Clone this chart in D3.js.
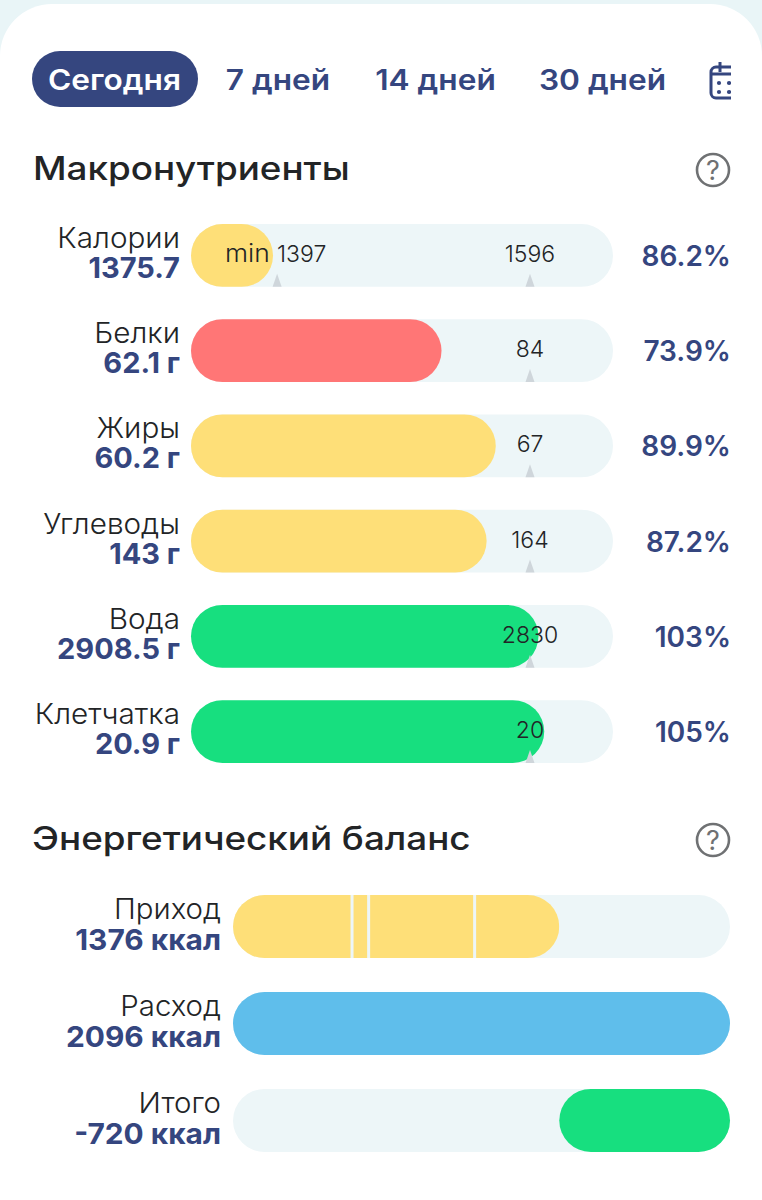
<!DOCTYPE html>
<html>
<head>
<meta charset="utf-8">
<script src="https://cdn.jsdelivr.net/npm/d3@7"></script>
<style>
  html, body { margin: 0; padding: 0; background: #fff; }
  text { font-family: Inter, "Noto Sans", sans-serif; }
</style>
</head>
<body>
<svg id="chart" width="762" height="1200"></svg>
<script>
// tabs
const tabLabels = ["Сегодня", "7 дней", "14 дней", "30 дней"];

// macronutrients
const macroNames = ["Калории", "Белки", "Жиры", "Углеводы", "Вода", "Клетчатка"];
const macroValues = ["1375.7", "62.1 г", "60.2 г", "143 г", "2908.5 г", "20.9 г"];
const macroPercents = ["86.2%", "73.9%", "89.9%", "87.2%", "103%", "105%"];
const macroFill = [24.2, 73.9, 89.9, 87.2, 102.5, 104.2]; // bar length, % of the target mark
const macroColors = ["#fedf78", "#ff7676", "#fedf78", "#fedf78", "#17df7f", "#17df7f"];
const macroTargets = ["1596", "84", "67", "164", "2830", "20"];
const calorieMinLabel = "1397";
const calorieMinPos = 25.4;

// energy balance
const energyNames = ["Приход", "Расход", "Итого"];
const energyLabels = ["1376 ккал", "2096 ккал", "-720 ккал"];
const mealKcal = [502, 70, 447, 357];
const burnedKcal = 2096;
const balanceKcal = 720;

const navy = "#35467f", ink = "#222426", track = "#edf6f8", mark = "#cfd6db", yellow = "#fedf78";

const svg = d3.select("#chart");

// the reference font runs wider than Inter, so stretch text by a factor
function widen(sel, k) {
  sel.each(function () {
    d3.select(this)
      .attr("textLength", this.getComputedTextLength() * k)
      .attr("lengthAdjust", "spacingAndGlyphs");
  });
}

// page background + card
svg.append("rect").attr("width", 762).attr("height", 60).attr("fill", "#e9f5f7");
svg.append("rect").attr("y", 4).attr("width", 762).attr("height", 1260).attr("rx", 52).attr("fill", "#fff");

// tabs
const tabX = [114.5, 278, 435.5, 602.5];
svg.append("rect").attr("x", 32).attr("y", 51).attr("width", 166).attr("height", 56)
  .attr("rx", 28).attr("fill", navy);
svg.selectAll(".tab").data(tabLabels).enter().append("text")
  .attr("class", "tab")
  .attr("x", (d, i) => tabX[i]).attr("y", 90)
  .attr("text-anchor", "middle")
  .attr("fill", (d, i) => i === 0 ? "#fff" : navy)
  .style("font-size", "28px").style("font-weight", 600)
  .text(d => d)
  .call(widen, 1.13);

// calendar icon, cut at the right edge like the tab strip
svg.append("clipPath").attr("id", "calClip").append("rect")
  .attr("x", 700).attr("y", 55).attr("width", 31).attr("height", 50);
const cal = svg.append("g").attr("clip-path", "url(#calClip)");
cal.append("rect").attr("x", 711).attr("y", 67).attr("width", 30).attr("height", 31).attr("rx", 5)
  .attr("fill", "none").attr("stroke", navy).attr("stroke-width", 3);
cal.append("path").attr("d", "M711 74H741M720 62V72").attr("stroke", navy).attr("stroke-width", 3);
cal.selectAll(".dot").data([[719, 83], [729, 83], [719, 92], [729, 92]]).enter().append("circle")
  .attr("cx", d => d[0]).attr("cy", d => d[1]).attr("r", 2.1).attr("fill", navy);

function sectionTitle(title, x, y, helpY) {
  svg.append("text").attr("x", x).attr("y", y).attr("fill", ink)
    .style("font-size", "32px").style("font-weight", 500).text(title)
    .call(widen, 1.15);
  svg.append("circle").attr("cx", 713).attr("cy", helpY).attr("r", 16)
    .attr("fill", "none").attr("stroke", "#6f7173").attr("stroke-width", 2.6);
  svg.append("text").attr("x", 713).attr("y", helpY + 9.5).attr("text-anchor", "middle")
    .attr("fill", "#6f7173").style("font-size", "27px").text("?");
}

sectionTitle("Макронутриенты", 33, 180, 170);
sectionTitle("Энергетический баланс", 32, 850, 840);

// macro rows
const xMacro = d3.scaleLinear().domain([0, 100]).range([191, 530]);
const yMacro = d3.scaleBand().domain(macroNames).range([224, 763]).paddingInner(0.34);
const h = yMacro.bandwidth();

const rows = svg.selectAll(".macro").data(macroNames).enter().append("g")
  .attr("class", "macro")
  .attr("transform", d => `translate(0,${yMacro(d)})`);

rows.append("rect").attr("x", 191).attr("width", 422).attr("height", h).attr("rx", h / 2).attr("fill", track);
rows.append("rect").attr("x", xMacro(0))
  .attr("width", (d, i) => xMacro(macroFill[i]) - xMacro(0))
  .attr("height", h).attr("rx", h / 2)
  .attr("fill", (d, i) => macroColors[i]);

const triangle = (x, y) => `M${x} ${y - 13}L${x + 4.5} ${y}H${x - 4.5}Z`;
rows.append("path").attr("d", triangle(xMacro(100), h)).attr("fill", mark);
rows.append("text").attr("x", xMacro(100)).attr("y", 38).attr("text-anchor", "middle")
  .attr("fill", ink).style("font-size", "23px").style("font-weight", 300).text((d, i) => macroTargets[i]);

rows.append("text").attr("x", 180).attr("y", 24).attr("text-anchor", "end")
  .attr("fill", ink).style("font-size", "28px").style("font-weight", 300).text(d => d)
  .call(widen, 1.06);
rows.append("text").attr("x", 180).attr("y", 54).attr("text-anchor", "end")
  .attr("fill", navy).style("font-size", "29px").style("font-weight", 700).text((d, i) => macroValues[i]);
rows.append("text").attr("x", 731).attr("y", 42).attr("text-anchor", "end")
  .attr("fill", navy).style("font-size", "28px").style("font-weight", 600).text((d, i) => macroPercents[i]);

// calories row has a min mark too
const calRow = rows.filter((d, i) => i === 0);
calRow.append("path").attr("d", triangle(xMacro(calorieMinPos), h)).attr("fill", mark);
calRow.append("text").attr("x", 225).attr("y", 38).attr("fill", ink)
  .style("font-size", "24px").style("font-weight", 300).text("min").call(widen, 1.1);
calRow.append("text").attr("x", 277).attr("y", 38).attr("fill", ink)
  .style("font-size", "23px").style("font-weight", 300).text(calorieMinLabel);

// energy rows
const xEnergy = d3.scaleLinear().domain([0, burnedKcal]).range([233, 730]);
const yEnergy = d3.scaleBand().domain(energyNames).range([895, 1152]).paddingInner(0.35);
const eh = yEnergy.bandwidth();

const eRows = svg.selectAll(".energy").data(energyNames).enter().append("g")
  .attr("class", "energy")
  .attr("transform", d => `translate(0,${yEnergy(d)})`);

eRows.append("rect").attr("x", 233).attr("width", 497).attr("height", eh).attr("rx", eh / 2).attr("fill", track);
eRows.append("text").attr("x", 221).attr("y", 24).attr("text-anchor", "end")
  .attr("fill", ink).style("font-size", "28px").style("font-weight", 300).text(d => d)
  .call(widen, 1.05);
eRows.append("text").attr("x", 221).attr("y", 55).attr("text-anchor", "end")
  .attr("fill", navy).style("font-size", "29px").style("font-weight", 700).text((d, i) => energyLabels[i])
  .call(widen, 1.03);

// intake is split into meals, rounded only at the outer ends
const intake = d3.sum(mealKcal);
svg.append("clipPath").attr("id", "intakeClip").append("rect")
  .attr("x", xEnergy(0)).attr("width", xEnergy(intake) - xEnergy(0)).attr("height", eh).attr("rx", eh / 2);
const meals = eRows.filter((d, i) => i === 0).append("g").attr("clip-path", "url(#intakeClip)");
let acc = 0;
mealKcal.forEach((kcal, i) => {
  meals.append("rect").attr("x", xEnergy(acc) + (i ? 1.5 : 0))
    .attr("width", xEnergy(acc + kcal) - xEnergy(acc) - (i ? 1.5 : 0) - (i < mealKcal.length - 1 ? 1.5 : 0))
    .attr("height", eh).attr("fill", yellow);
  acc += kcal;
});

eRows.filter((d, i) => i === 1).append("rect")
  .attr("x", xEnergy(0)).attr("width", xEnergy(burnedKcal) - xEnergy(0))
  .attr("height", eh).attr("rx", eh / 2).attr("fill", "#5fbeeb");

eRows.filter((d, i) => i === 2).append("rect")
  .attr("x", xEnergy(burnedKcal - balanceKcal)).attr("width", xEnergy(burnedKcal) - xEnergy(burnedKcal - balanceKcal))
  .attr("height", eh).attr("rx", eh / 2).attr("fill", "#17df7f");
</script>
</body>
</html>
